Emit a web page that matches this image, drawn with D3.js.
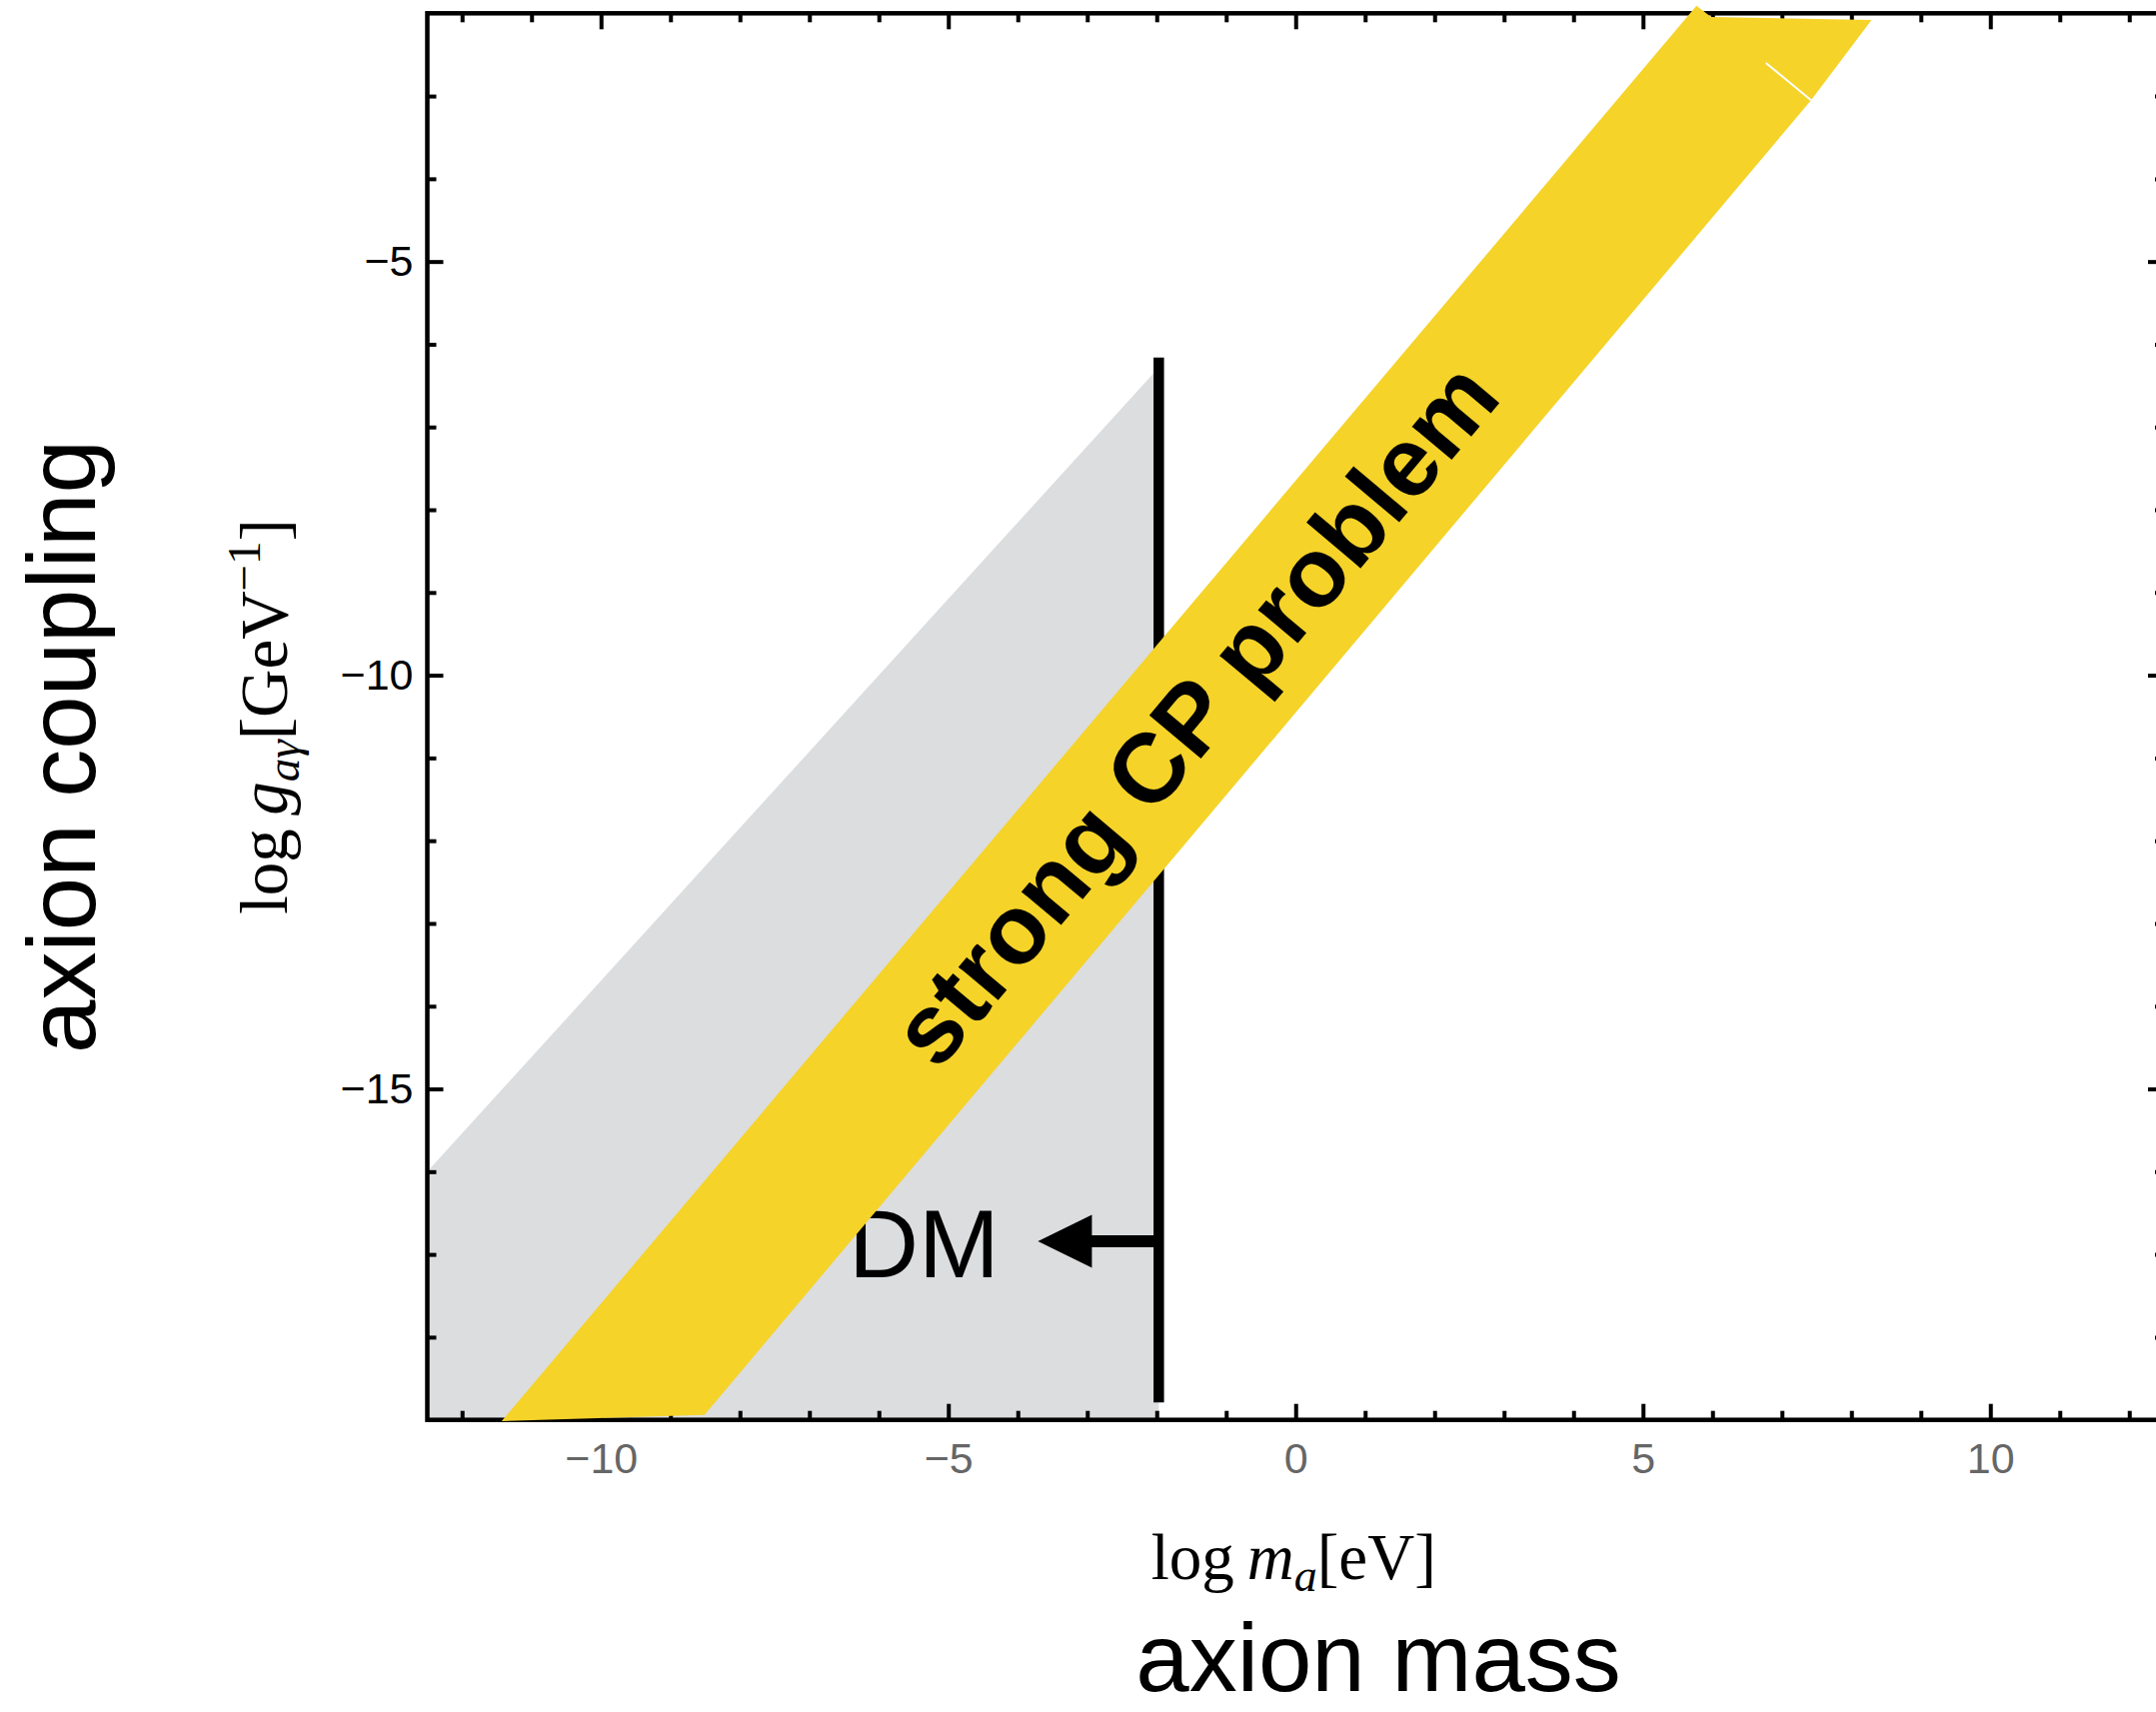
<!DOCTYPE html>
<html><head><meta charset="utf-8">
<script src="https://cdn.jsdelivr.net/npm/d3@7"></script>
<style>html,body{margin:0;padding:0;background:#fff;} svg{display:block;}</style>
</head><body>
<script>
// ---------------- data ----------------
const xDomain = [-12.5, 12.5];          // log m_a [eV]
const yDomain = [-2, -19];              // log g_aγ [GeV^-1]
const xTickValues = d3.range(-12, 13);
const yTickValues = d3.range(-18, -2);
const xMajorTicks = [-10, -5, 0, 5, 10];
const yMajorTicks = [-5, -10, -15];

// strong CP problem (QCD axion) band polygon
const bandLogM = [-11.43, -8.51, 7.42, 8.29, 5.98, 5.77];
const bandLogG = [-19.015, -18.94, -3.05, -2.08, -2.045, -1.91];
const bandSeamLogM = [7.42, 6.77];
const bandSeamLogG = [-3.05, -2.60];

// DM region polygon
const dmLogM = [-12.5, -1.97, -1.97, -12.5];
const dmLogG = [-16.0, -6.28, -19, -19];
const dmLineLogM = -1.97;
const dmLineLogG = [-6.16, -18.79];
const dmArrowLogM = [-1.97, -3.71];
const dmArrowLogG = -16.84;

// ---------------- layout ----------------
const W = 2157, H = 1713;
const L = 427.5, R = 2165, T = 13.3, B = 1420.7;
const x = d3.scaleLinear().domain(xDomain).range([L, R]);
const y = d3.scaleLinear().domain(yDomain).range([T, B]);

const svg = d3.select("body").append("svg").attr("width", W).attr("height", H);
svg.append("rect").attr("width", W).attr("height", H).attr("fill", "#fff");

const sans = "'Liberation Sans', Arial, Helvetica, sans-serif";
const serif = "'Liberation Serif', 'Times New Roman', serif";

// DM grey region
const dmPts = dmLogM.map((m, i) => [x(m), y(dmLogG[i])]);
svg.append("path").attr("d", d3.line()(dmPts) + "Z").attr("fill", "#dcdddf");

// DM vertical line
svg.append("line")
  .attr("x1", x(dmLineLogM)).attr("x2", x(dmLineLogM))
  .attr("y1", y(dmLineLogG[0])).attr("y2", y(dmLineLogG[1]))
  .attr("stroke", "#000").attr("stroke-width", 10.5);

// DM arrow
const ay = y(dmArrowLogG), ax0 = x(dmArrowLogM[0]), atip = x(dmArrowLogM[1]);
const headLen = 54, headHalf = 26.5, shaftHalf = 6;
svg.append("path")
  .attr("d", `M${ax0},${ay - shaftHalf} L${atip + headLen},${ay - shaftHalf} L${atip + headLen},${ay - headHalf} L${atip},${ay} L${atip + headLen},${ay + headHalf} L${atip + headLen},${ay + shaftHalf} L${ax0},${ay + shaftHalf} Z`)
  .attr("fill", "#000");

svg.append("text")
  .attr("x", x(-5.35)).attr("y", y(-17.28))
  .attr("text-anchor", "middle")
  .attr("font-family", sans).attr("font-size", 97)
  .attr("fill", "#000").text("DM");

// ---------------- frame & ticks ----------------
const isMajX = d => xMajorTicks.includes(d);
const isMajY = d => yMajorTicks.includes(d);
const MAJ = 16, MIN = 9;

const gB = svg.append("g").attr("transform", `translate(0,${B})`)
  .call(d3.axisBottom(x).tickValues(xTickValues).tickSizeInner(-MIN).tickSizeOuter(0).tickPadding(23)
    .tickFormat(d => isMajX(d) ? d3.format("d")(d) : ""));
gB.selectAll(".tick line").attr("y2", d => isMajX(d) ? -MAJ : -MIN);

const gT = svg.append("g").attr("transform", `translate(0,${T})`)
  .call(d3.axisTop(x).tickValues(xTickValues).tickSizeInner(-MIN).tickSizeOuter(0).tickFormat(""));
gT.selectAll(".tick line").attr("y2", d => isMajX(d) ? MAJ : MIN);

const gL = svg.append("g").attr("transform", `translate(${L},0)`)
  .call(d3.axisLeft(y).tickValues(yTickValues).tickSizeInner(-MIN).tickSizeOuter(0).tickPadding(14)
    .tickFormat(d => isMajY(d) ? d3.format("d")(d) : ""));
gL.selectAll(".tick line").attr("x2", d => isMajY(d) ? MAJ : MIN);

const gR = svg.append("g").attr("transform", `translate(${R},0)`)
  .call(d3.axisRight(y).tickValues(yTickValues).tickSizeInner(-MIN).tickSizeOuter(0).tickFormat(""));
gR.selectAll(".tick line").attr("x2", d => isMajY(d) ? -MAJ : -MIN);

[gB, gT, gL, gR].forEach(g => {
  g.select(".domain").remove();
  g.selectAll(".tick line").attr("stroke", "#000").attr("stroke-width", 4);
});
gB.selectAll(".tick text").attr("font-family", sans).attr("font-size", 43).attr("fill", "#666");
gL.selectAll(".tick text").attr("font-family", sans).attr("font-size", 43).attr("fill", "#000");

svg.append("rect").attr("x", L).attr("y", T).attr("width", R - L).attr("height", B - T)
  .attr("fill", "none").attr("stroke", "#000").attr("stroke-width", 4.5);

// ---------------- strong CP band ----------------
const bandPts = bandLogM.map((m, i) => [x(m), y(bandLogG[i])]);
svg.append("path").attr("d", d3.line()(bandPts) + "Z").attr("fill", "#f5d329");
svg.append("line")
  .attr("x1", x(bandSeamLogM[0])).attr("y1", y(bandSeamLogG[0]))
  .attr("x2", x(bandSeamLogM[1])).attr("y2", y(bandSeamLogG[1]))
  .attr("stroke", "#fff").attr("stroke-width", 2);

const ang = -Math.atan((y(-10) - y(-9)) / (x(1) - x(0))) * 180 / Math.PI;
svg.append("text")
  .attr("transform", `translate(${x(-1.47)},${y(-10.45)}) rotate(${ang})`)
  .attr("text-anchor", "middle").attr("dy", "0.36em")
  .attr("font-family", sans).attr("font-weight", "bold").attr("font-size", 98)
  .attr("fill", "#000").text("strong CP problem");

// ---------------- axis titles ----------------
const xt = svg.append("text").attr("x", (L + R) / 2 - 2).attr("y", 1580)
  .attr("text-anchor", "middle").attr("font-family", serif).attr("font-size", 65).attr("fill", "#000");
xt.append("tspan").text("log\u2009");
xt.append("tspan").attr("font-style", "italic").text("m");
xt.append("tspan").attr("font-style", "italic").attr("font-size", 46).attr("dy", 12).text("a");
xt.append("tspan").attr("dy", -12).text("[eV]");

const yt = svg.append("text").attr("transform", `translate(287,${(T + B) / 2}) rotate(-90)`)
  .attr("text-anchor", "middle").attr("font-family", serif).attr("font-size", 67).attr("fill", "#000");
yt.append("tspan").text("log\u2009");
yt.append("tspan").attr("font-style", "italic").text("g");
yt.append("tspan").attr("font-style", "italic").attr("font-size", 47).attr("dy", 12).text("aγ");
yt.append("tspan").attr("dy", -12).text("[GeV");
yt.append("tspan").attr("font-size", 47).attr("dy", -27).text("\u22121");
yt.append("tspan").attr("dy", 27).text("]");

svg.append("text").attr("x", 1379).attr("y", 1692).attr("text-anchor", "middle")
  .attr("font-family", sans).attr("font-size", 96).attr("fill", "#000").text("axion mass");

svg.append("text").attr("transform", `translate(95,747) rotate(-90)`).attr("text-anchor", "middle")
  .attr("font-family", sans).attr("font-size", 96).attr("fill", "#000").text("axion coupling");
</script>
</body></html>
